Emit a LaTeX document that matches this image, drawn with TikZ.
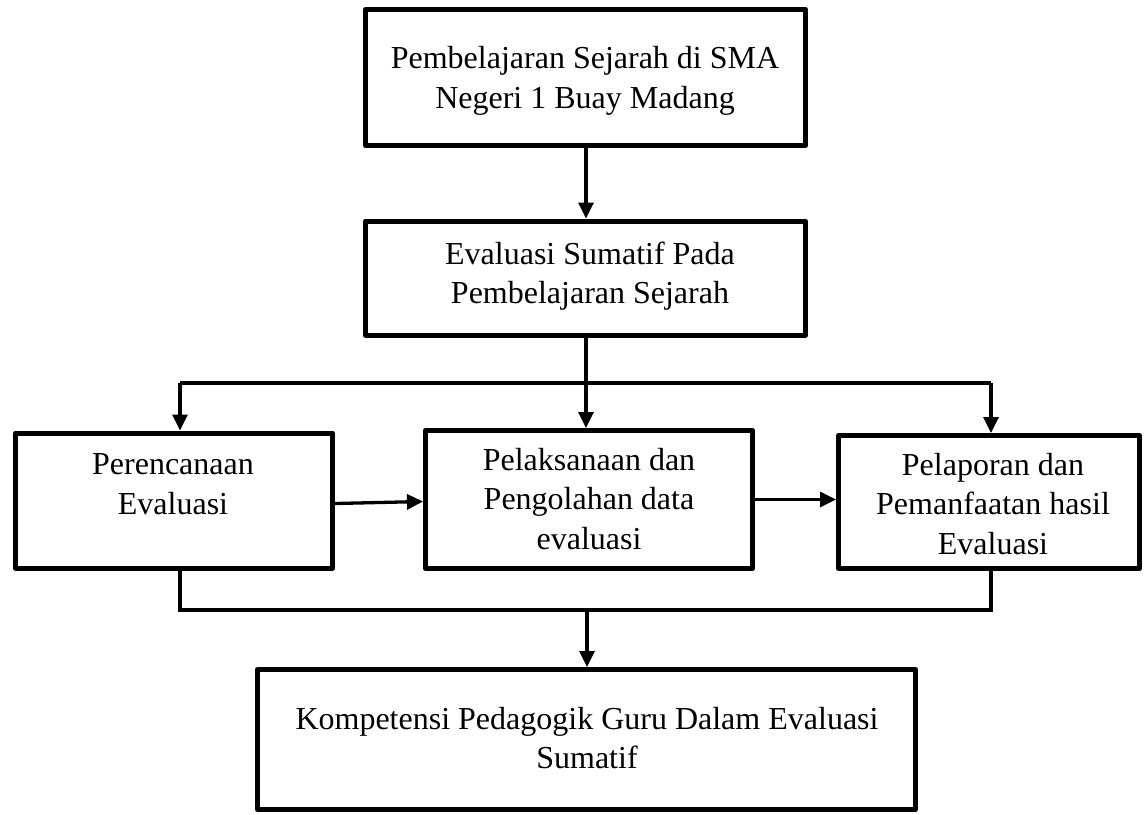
\documentclass[tikz,border=0pt]{standalone}
\usepackage{fontspec}
\setmainfont{Liberation Serif}
\usetikzlibrary{arrows.meta}
\begin{document}
\begin{tikzpicture}[x=1pt,y=1pt,
  box/.style={draw=black,line width=5pt,rectangle,inner sep=0pt,line join=round},
  txt/.style={align=center,inner sep=0pt,font=\fontsize{32}{39.5}\selectfont},
  conn/.style={draw=black,line width=3.3pt},
  arr/.style={conn,-{Triangle[width=15pt,length=16pt]}}]
\useasboundingbox (0,0) rectangle (1145,-814);
% boxes
\node[box,minimum width=440pt,minimum height=136pt] (b1) at (585.5,-77.5) {};
\node[box,minimum width=440pt,minimum height=114pt] (b2) at (585.5,-278) {};
\node[box,minimum width=317pt,minimum height=135pt] (b3) at (174,-500.5) {};
\node[box,minimum width=327pt,minimum height=138pt] (b4) at (589,-499.5) {};
\node[box,minimum width=301pt,minimum height=133pt] (b5) at (989,-502) {};
\node[box,minimum width=658pt,minimum height=140pt] (b6) at (586.5,-739.5) {};
% texts
\node[txt] (t1) at (585,-81) {Pembelajaran Sejarah di SMA\\Negeri 1 Buay Madang};
\node[txt] (t2) at (590,-276) {Evaluasi Sumatif Pada\\Pembelajaran Sejarah};
\node[txt] (t3) at (173,-484) {Perencanaan\\Evaluasi};
\node[txt] (t4) at (589,-499) {Pelaksanaan dan\\Pengolahan data\\evaluasi};
\node[txt] (t5) at (993,-504) {Pelaporan dan\\Pemanfaatan hasil\\Evaluasi};
\node[txt] (t6) at (587,-738) {Kompetensi Pedagogik Guru Dalam Evaluasi\\Sumatif};
% junction coordinates
\coordinate (jt) at (586,-383);
\coordinate (jl) at (180,-383);
\coordinate (jr) at (991,-383);
\coordinate (jb) at (587,-610);
% connectors
\draw[arr] (b1.south -| jt) -- (b2.north -| jt);
\draw[arr] (b2.south -| jt) -- (b4.north -| jt);
\draw[conn] (jl) -- (jr);
\draw[arr] (jl) -- (jl |- b3.north);
\draw[arr] (jr) -- (jr |- b5.north);
\draw[arr] ([yshift=-3pt]b3.east) -- ([yshift=-1pt]b3.east -| b4.west);
\draw[arr] (b4.east) -- (b4.east -| b5.west);
\draw[conn,line join=miter] (jl |- b3.south) -- (jl |- jb) -- (jr |- jb) -- (jr |- b5.south);
\draw[arr] (jb) -- (jb |- b6.north);
\end{tikzpicture}
\end{document}
